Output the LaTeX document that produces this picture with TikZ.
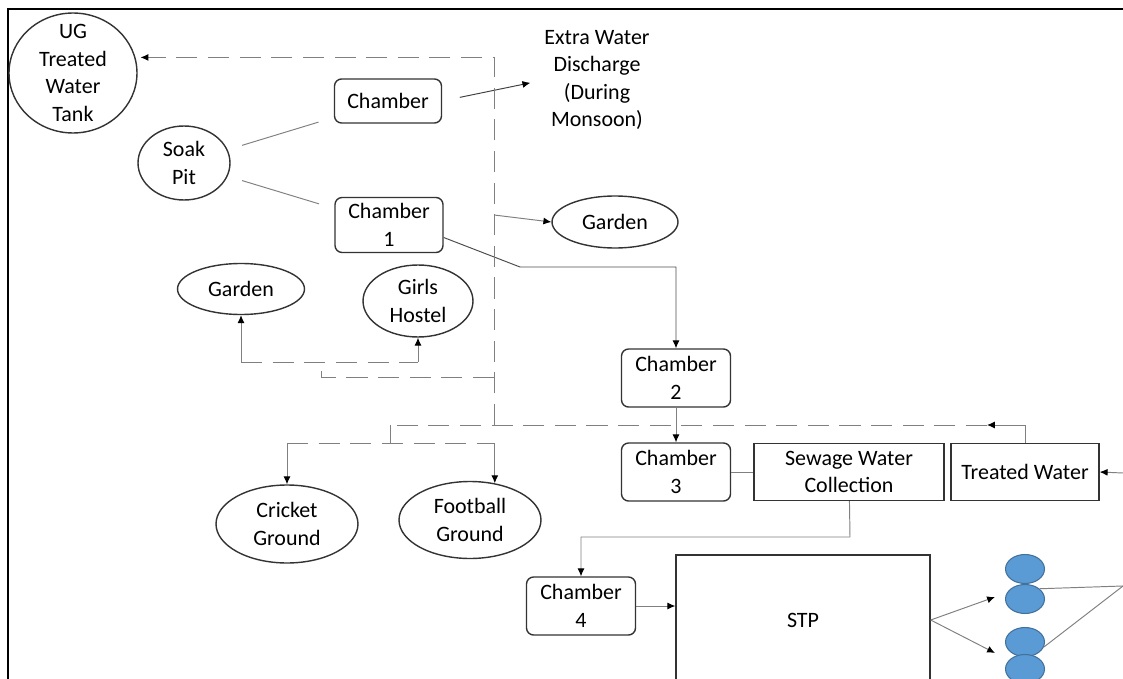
\documentclass[tikz,border=0pt]{standalone}
\usepackage{fontspec}
\setmainfont{Carlito}
\usetikzlibrary{shapes.geometric,arrows.meta}
\definecolor{blu}{HTML}{5B9BD5}
\definecolor{bluscuro}{HTML}{41719C}
\tikzset{
  bordo/.style={draw=black!80,line width=0.8pt},
  camera/.style={bordo,rounded corners=4pt,align=center,inner sep=1pt,minimum width=2.18cm,minimum height=1.16cm},
  ovale/.style={bordo,ellipse,align=center,inner sep=0pt},
  scatola/.style={bordo,rectangle,align=center,inner sep=1pt,minimum height=1.14cm},
  linea/.style={draw=black!50,line width=0.55pt},
  freccia/.style={linea,-{Latex[length=4.5pt,width=4pt,color=black]}},
  tratto/.style={linea,dash pattern=on 12pt off 6pt},
  bolla/.style={ellipse,fill=blu,draw=bluscuro,line width=0.6pt,minimum width=0.78cm,minimum height=0.58cm,inner sep=0pt}
}
\begin{document}
\begin{tikzpicture}[x=0.02cm,y=-0.02cm,font=\fontsize{12.5}{15.7}\selectfont]
        \useasboundingbox (0,0) rectangle (1123,679);
        \clip (0,0) rectangle (1123,679);
        %cornice
        \draw[line width=1.4pt](8,679)--(8,9)--(1123,9);
        %nodi
        \node[ovale,minimum width=2.56cm,minimum height=2.4cm,inner ysep=-5pt](tank) at (73,73) {UG\\Treated\\Water\\Tank};
        \node[ovale,minimum width=1.84cm,minimum height=1.48cm](soak) at (184,163) {Soak\\Pit};
        \node[camera,minimum width=2.14cm,minimum height=0.88cm](ch0) at (388,101) {Chamber};
        \node[camera,minimum width=2.16cm,minimum height=1.1cm](ch1) at (389,225) {Chamber\\1};
        \node[align=center,inner sep=0pt](extra) at (597,80) {Extra Water\\Discharge\\(During\\Monsoon)};
        \node[ovale,minimum width=2.52cm,minimum height=1.04cm](gardenR) at (615,222) {Garden};
        \node[ovale,minimum width=2.54cm,minimum height=1.02cm](gardenL) at (241,289) {Garden};
        \node[ovale,minimum width=2.2cm,minimum height=1.44cm](hostel) at (418,301) {Girls\\Hostel};
        \node[ovale,minimum width=2.84cm,minimum height=1.56cm](cricket) at (287,524) {Cricket\\Ground};
        \node[ovale,minimum width=2.84cm,minimum height=1.54cm](football) at (470,520) {Football\\Ground};
        \node[camera](ch2) at (676,378) {Chamber\\2};
        \node[camera](ch3) at (676,472) {Chamber\\3};
        \node[scatola,minimum width=3.8cm](sewage) at (849,472) {Sewage Water\\Collection};
        \node[scatola,minimum width=2.96cm](treated) at (1025,472) {Treated Water};
        \node[camera](ch4) at (581,606) {Chamber\\4};
        \node[scatola,minimum width=5.08cm,minimum height=2.6cm](stp) at (803,620) {STP};
        \node[bolla](b1) at (1025,569) {};
        \node[bolla](b2) at (1025,599) {};
        \node[bolla](b3) at (1025,642) {};
        \node[bolla](b4) at (1025,669) {};
        %punti di passaggio
        \coordinate (t1) at (987,425);
        \coordinate (d1) at (390,425);
        \coordinate (j1) at (494,425);
        \coordinate (j3) at (494,215);
        \coordinate (j4) at (494,377);
        \coordinate (g1) at (321,362);
        \coordinate (g2) at (gardenL.south |- g1);
        \coordinate (g3) at (hostel.south |- g1);
        \coordinate (d2) at (390,443);
        \coordinate (c1) at (cricket.north |- d2);
        \coordinate (f1) at (football.56 |- d2);
        \coordinate (k1) at (520,267);
        \coordinate (s1) at (850,537);
        \coordinate (a1) at (995,597);
        \coordinate (a2) at (995,653);
        \coordinate (r1) at (1123,586);
        \coordinate (r2) at (1123,473);
        %collegamenti pieni
        \draw[linea,shorten <=0.3cm,shorten >=0.32cm](soak)--(ch0);
        \draw[linea,shorten <=0.3cm,shorten >=0.32cm](soak)--(ch1);
        \draw[freccia,draw=black!75,shorten <=0.36cm,shorten >=0.28cm](ch0.east)--(extra.west);
        \draw[freccia,draw=black!70]([yshift=-0.25cm]ch1.east)--(k1)-|(ch2.north);
        \draw[freccia](ch2)--(ch3);
        \draw[linea](ch3)--(sewage);
        \draw[freccia](sewage)--(s1)-|(ch4.north);
        \draw[freccia](ch4.east)--(ch4.east -| stp.west);
        \draw[freccia](stp.east)--(a1);
        \draw[freccia](stp.east)--(a2);
        \draw[linea](b2.35)--(r1);
        \draw[linea](b3.-15)--(r1);
        \draw[freccia](r2)--(treated.east);
        \draw[freccia](treated.north)|-(t1);
        %collegamenti tratteggiati
        \draw[tratto](t1)--(d1);
        \draw[tratto,-{Latex[length=4.5pt,width=4pt,color=black]},shorten >=0.1cm](j1)--(j1 |- tank.14)--(tank.14);
        \draw[freccia](j3)--(gardenR.west);
        \draw[tratto](j4)-|(g1);
        \draw[tratto](g2)--(g3);
        \draw[freccia](g2)--(gardenL.south);
        \draw[freccia](g3)--(hostel.south);
        \draw[tratto](d1)--(d2);
        \draw[tratto](c1)--(f1);
        \draw[freccia](c1)--(cricket.north);
        \draw[freccia](f1)--(football.56);
    \end{tikzpicture}
\end{document}
